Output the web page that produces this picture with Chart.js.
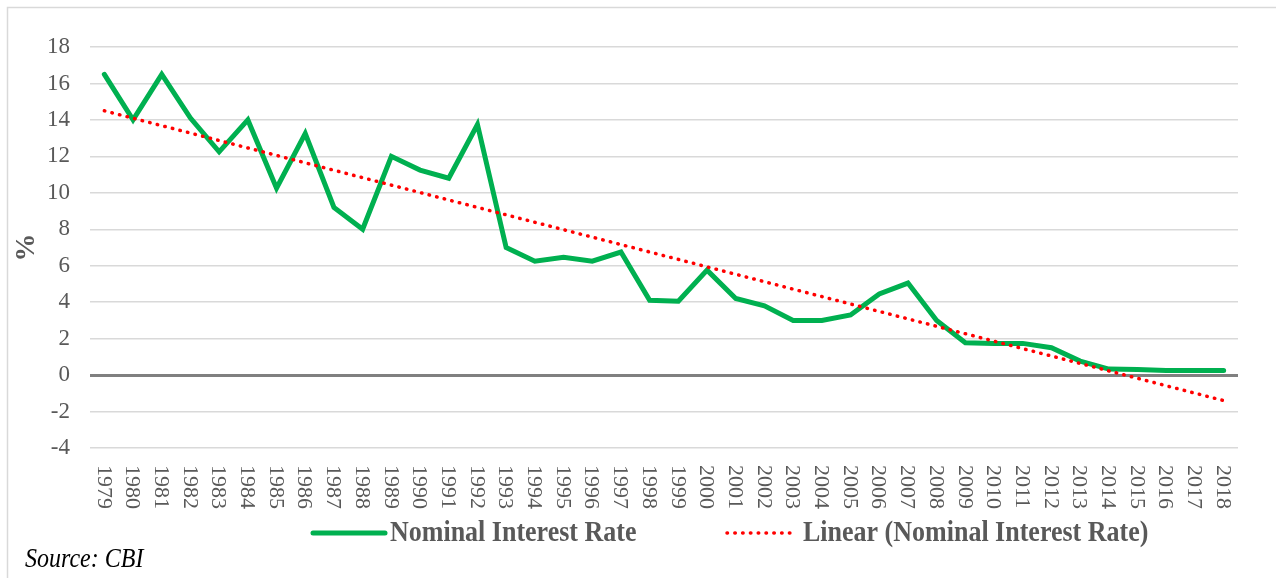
<!DOCTYPE html>
<html>
<head>
<meta charset="utf-8">
<script src="https://cdn.jsdelivr.net/npm/chart.js@4/dist/chart.umd.min.js"></script>
<style>
  html, body { margin: 0; padding: 0; background: #ffffff; }
  #wrap { width: 1276px; height: 578px; position: relative; }
</style>
</head>
<body>
<div id="wrap"><canvas id="c" width="1276" height="578"></canvas></div>
<script>
const years = ['1979','1980','1981','1982','1983','1984','1985','1986','1987','1988',
  '1989','1990','1991','1992','1993','1994','1995','1996','1997','1998',
  '1999','2000','2001','2002','2003','2004','2005','2006','2007','2008',
  '2009','2010','2011','2012','2013','2014','2015','2016','2017','2018'];
const nominalRate = [16.5, 14.0, 16.5, 14.1, 12.25, 14.0, 10.25, 13.25, 9.2, 8.0,
  12.0, 11.25, 10.8, 13.75, 7.0, 6.25, 6.47, 6.25, 6.75, 4.1,
  4.05, 5.76, 4.2, 3.8, 3.0, 3.0, 3.3, 4.45, 5.05, 3.0,
  1.77, 1.74, 1.74, 1.5, 0.77, 0.33, 0.3, 0.25, 0.25, 0.25];
const trendYears = ['1979', '2018'];
const trendValues = [14.5, -1.4];
const yTicks = [-4, -2, 0, 2, 4, 6, 8, 10, 12, 14, 16, 18];
const seriesLabels = ['Nominal Interest Rate', 'Linear (Nominal Interest Rate)'];
const sourceText = 'Source: CBI';
const yTitle = '%';

const SERIF = '"Liberation Serif", "Times New Roman", serif';
const GREY_TEXT = '#595959';

const frame = {
  id: 'frame',
  beforeDraw(chart) {
    const ctx = chart.ctx;
    ctx.save();
    ctx.strokeStyle = '#d9d9d9';
    ctx.lineWidth = 1.5;
    ctx.beginPath();
    ctx.moveTo(7.5, chart.height + 2);
    ctx.lineTo(7.5, 7.5);
    ctx.lineTo(chart.width + 2, 7.5);
    ctx.stroke();
    ctx.restore();
  }
};

const xLabels = {
  id: 'xLabels',
  afterDraw(chart) {
    const ctx = chart.ctx;
    const xs = chart.scales.x;
    ctx.save();
    ctx.fillStyle = GREY_TEXT;
    ctx.font = '22px ' + SERIF;
    ctx.textAlign = 'left';
    ctx.textBaseline = 'middle';
    chart.data.labels.forEach((lab, i) => {
      const x = xs.getPixelForValue(i);
      ctx.save();
      ctx.translate(x - 1, xs.top + 17);
      ctx.rotate(Math.PI / 2);
      ctx.fillText(lab, 0, 0);
      ctx.restore();
    });
    ctx.restore();
  }
};

function stretchedText(ctx, text, x, y, sy) {
  ctx.save();
  ctx.translate(x, y);
  ctx.scale(1, sy);
  ctx.fillText(text, 0, 0);
  ctx.restore();
}

const legendAndSource = {
  id: 'legendAndSource',
  afterDraw(chart) {
    const ctx = chart.ctx;
    const ds = chart.data.datasets;
    const y = 533;
    const items = [
      { x0: 313, x1: 385, tx: 390 },
      { x0: 727, x1: 794, tx: 803 }
    ];
    ctx.save();
    items.forEach((it, i) => {
      const d = ds[i];
      ctx.save();
      ctx.strokeStyle = d.borderColor;
      ctx.lineWidth = d.borderWidth;
      ctx.lineCap = 'round';
      ctx.setLineDash(d.borderDash || []);
      ctx.beginPath();
      ctx.moveTo(it.x0, y);
      ctx.lineTo(it.x1, y);
      ctx.stroke();
      ctx.restore();
      ctx.fillStyle = GREY_TEXT;
      ctx.font = 'bold 26px ' + SERIF;
      ctx.textAlign = 'left';
      ctx.textBaseline = 'middle';
      stretchedText(ctx, d.label, it.tx, y + 1, 1.1);
    });
    ctx.fillStyle = '#000000';
    ctx.font = 'italic 24px ' + SERIF;
    ctx.textAlign = 'left';
    ctx.textBaseline = 'middle';
    stretchedText(ctx, sourceText, 25, 560, 1.1);
    ctx.restore();
  }
};

new Chart(document.getElementById('c'), {
  type: 'line',
  data: {
    labels: years,
    datasets: [
      {
        label: seriesLabels[0],
        data: nominalRate,
        borderColor: '#00B050',
        backgroundColor: '#00B050',
        borderWidth: 5,
        borderCapStyle: 'round',
        borderJoinStyle: 'miter',
        pointRadius: 0,
        tension: 0,
        order: 2
      },
      {
        label: seriesLabels[1],
        data: trendYears.map((yr, i) => ({ x: yr, y: trendValues[i] })),
        borderColor: '#FF0000',
        backgroundColor: '#FF0000',
        borderWidth: 3.5,
        borderDash: [0.5, 7.3],
        borderCapStyle: 'round',
        pointRadius: 0,
        tension: 0,
        order: 1
      }
    ]
  },
  options: {
    responsive: false,
    animation: false,
    devicePixelRatio: 1,
    layout: { padding: { top: 47, right: 38, bottom: 0, left: 0 } },
    plugins: {
      legend: { display: false },
      tooltip: { enabled: false }
    },
    scales: {
      x: {
        type: 'category',
        offset: true,
        grid: { display: false },
        border: { display: false },
        ticks: { display: false },
        afterFit(scale) { scale.height = 130; }
      },
      y: {
        min: -4,
        max: 18,
        afterFit(scale) { scale.width = 90; },
        afterBuildTicks(scale) { scale.ticks = yTicks.map(v => ({ value: v })); },
        border: { display: false },
        grid: {
          drawTicks: false,
          color: (c) => (c.tick && c.tick.value === 0) ? '#808080' : '#d9d9d9',
          lineWidth: (c) => (c.tick && c.tick.value === 0) ? 3 : 1.5
        },
        ticks: {
          padding: 20,
          color: GREY_TEXT,
          font: { family: SERIF, size: 23 }
        },
        title: {
          display: true,
          text: yTitle,
          color: GREY_TEXT,
          font: { family: SERIF, size: 28, weight: 'bold' },
          padding: { top: 10, bottom: 0 }
        }
      }
    }
  },
  plugins: [frame, xLabels, legendAndSource]
});
</script>
</body>
</html>
